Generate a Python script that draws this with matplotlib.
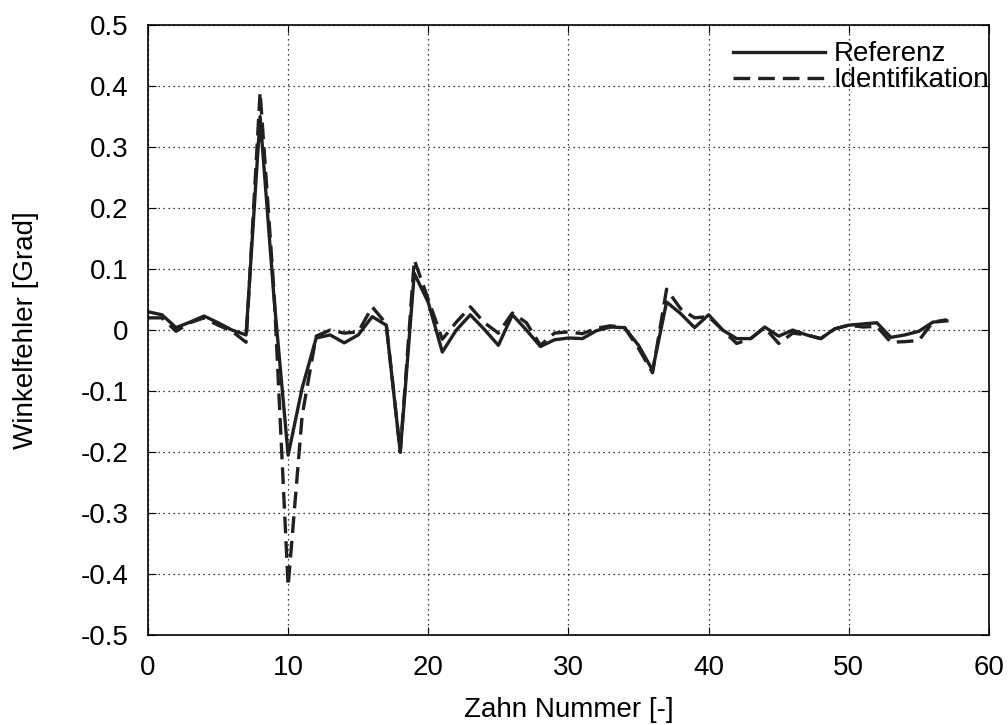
import matplotlib
matplotlib.use("Agg")
import matplotlib.pyplot as plt
import numpy as np

plt.rcParams['font.family'] = ['Liberation Sans', 'DejaVu Sans']
plt.rcParams['axes.unicode_minus'] = False

zahn = np.arange(0, 58)

referenz = [0.030, 0.025, 0.004, 0.013, 0.023, 0.012, 0.000, -0.008, 0.350, 0.050,
            -0.205, -0.095, -0.013, -0.008, -0.021, -0.008, 0.022, 0.008, -0.200, 0.093,
            0.045, -0.036, 0.000, 0.025, 0.001, -0.025, 0.025, 0.000, -0.027, -0.016,
            -0.013, -0.014, -0.001, 0.005, 0.004, -0.025, -0.066, 0.046, 0.027, 0.004,
            0.025, 0.000, -0.014, -0.014, 0.005, -0.010, 0.000, -0.008, -0.014, 0.002,
            0.008, 0.010, 0.012, -0.012, -0.008, -0.002, 0.013, 0.015]

identifikation = [0.020, 0.020, -0.002, 0.012, 0.020, 0.008, -0.002, -0.020, 0.390, 0.060,
                  -0.420, -0.140, -0.010, 0.000, -0.005, -0.003, 0.038, 0.010, -0.200, 0.115,
                  0.050, -0.015, 0.013, 0.038, 0.012, -0.005, 0.028, 0.012, -0.025, -0.005,
                  -0.003, -0.006, 0.003, 0.007, 0.004, -0.030, -0.070, 0.067, 0.035, 0.020,
                  0.022, 0.000, -0.022, -0.014, 0.004, -0.022, -0.005, -0.008, -0.014, 0.002,
                  0.008, 0.005, 0.006, -0.020, -0.019, -0.017, 0.013, 0.017]

y_ticks = [-0.5, -0.4, -0.3, -0.2, -0.1, 0, 0.1, 0.2, 0.3, 0.4, 0.5]

fig = plt.figure(figsize=(10.08, 7.25), dpi=100)
ax = fig.add_axes([0.1468, 0.124, 0.8343, 0.8415])

ax.plot(zahn, referenz, color='#231f20', lw=2.4, label='Referenz')
ax.plot(zahn, identifikation, color='#231f20', lw=2.4, dashes=(5, 2.4), label='Identifikation')

ax.set_xlim(0, 60)
ax.set_ylim(-0.5, 0.5)
ax.set_xticks(np.arange(0, 61, 10))
ax.set_yticks(y_ticks)
ax.set_yticklabels(['%g' % v for v in y_ticks])
ax.grid(True, color='black', linestyle=(0, (1, 3)), lw=0.9)
ax.tick_params(direction='in', top=True, right=True, labelsize=20, length=6, pad=14)
for s in ax.spines.values():
    s.set_linewidth(1.2)

ax.set_xlabel('Zahn Nummer [-]', fontsize=20, labelpad=12)
ax.set_ylabel('Winkelfehler [Grad]', fontsize=20, labelpad=30)

ax.legend(loc='upper right', bbox_to_anchor=(1.0, 0.973), frameon=False, fontsize=20,
          handlelength=3.3, handletextpad=0.3, labelspacing=0.0, borderaxespad=0.0,
          borderpad=0.0)

fig.savefig('out.png', dpi=100)
